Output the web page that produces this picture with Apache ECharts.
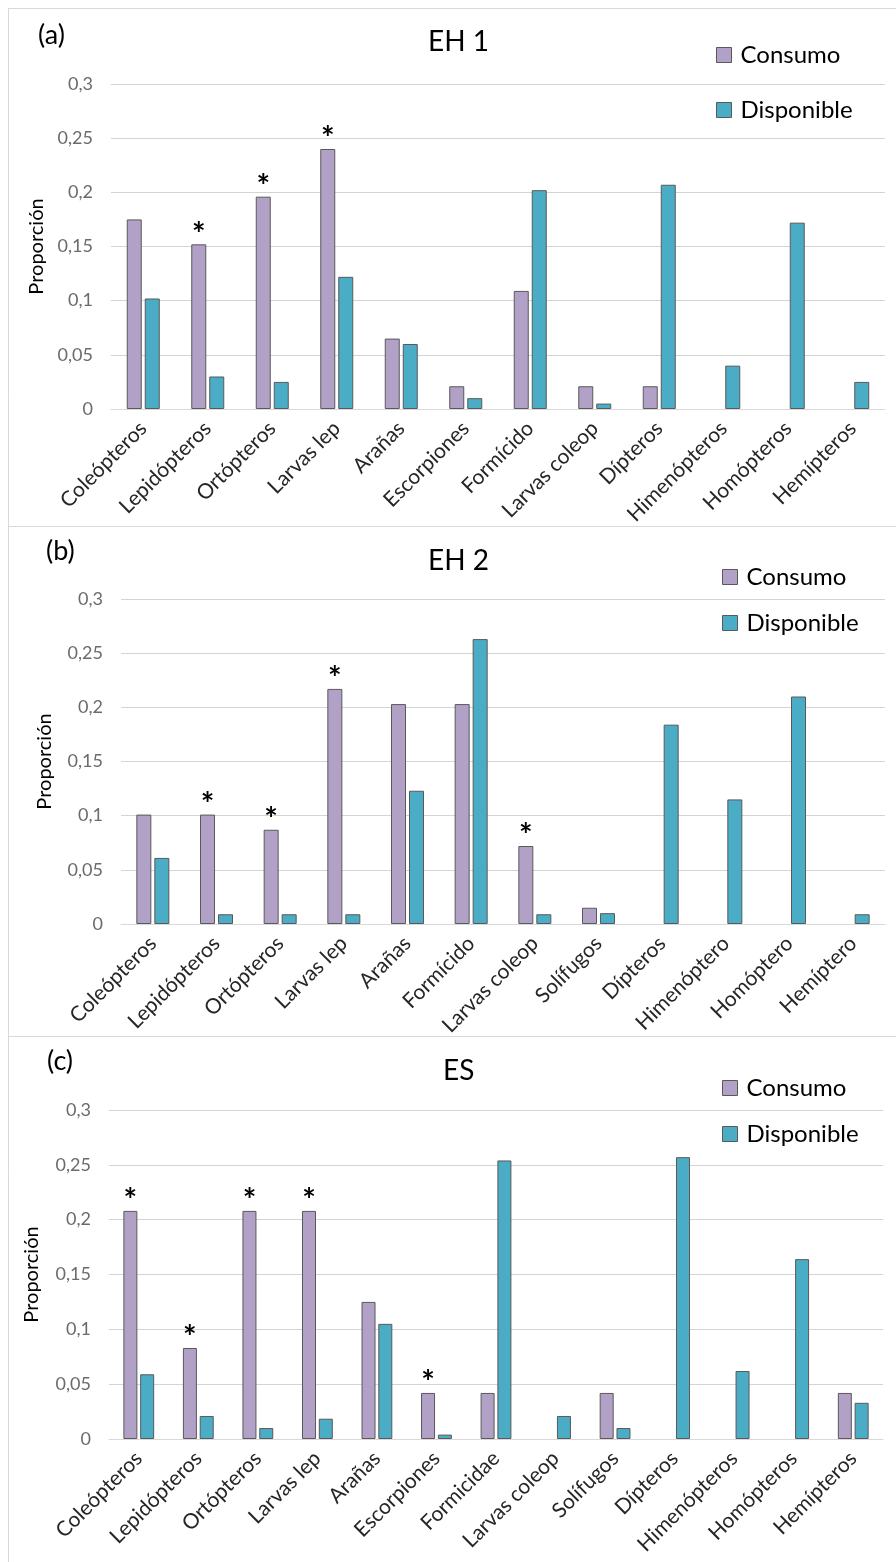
<!DOCTYPE html>
<html>
<head>
<meta charset="utf-8">
<script src="https://cdn.jsdelivr.net/npm/echarts@6/dist/echarts.min.js"></script>
<style>
html,body{margin:0;padding:0;background:#fff;}
#chart{width:896px;height:1562px;}
</style>
</head>
<body>
<div id="chart"></div>
<script>
// ---- Data ----
const seriesNames = ['Consumo', 'Disponible'];
const yTicks = [0, 0.05, 0.1, 0.15, 0.2, 0.25, 0.3];

const catsA = ['Coleópteros','Lepidópteros','Ortópteros','Larvas lep','Arañas','Escorpiones','Formícido','Larvas coleop','Dípteros','Himenópteros','Homópteros','Hemípteros'];
const consumoA = [0.175,0.152,0.196,0.240,0.065,0.021,0.109,0.021,0.021,0,0,0];
const disponibleA = [0.102,0.030,0.025,0.122,0.060,0.010,0.202,0.005,0.207,0.040,0.172,0.025];
const sigA = [0,1,1,1,0,0,0,0,0,0,0,0];

const catsB = ['Coleópteros','Lepidópteros','Ortópteros','Larvas lep','Arañas','Formícido','Larvas coleop','Solífugos','Dípteros','Himenóptero','Homóptero','Hemíptero'];
const consumoB = [0.101,0.101,0.087,0.217,0.203,0.203,0.072,0.015,0,0,0,0];
const disponibleB = [0.061,0.009,0.009,0.009,0.123,0.263,0.009,0.010,0.184,0.115,0.210,0.009];
const sigB = [0,1,1,1,0,0,1,0,0,0,0,0];

const catsC = ['Coleópteros','Lepidópteros','Ortópteros','Larvas lep','Arañas','Escorpiones','Formicidae','Larvas coleop','Solífugos','Dípteros','Himenópteros','Homópteros','Hemípteros'];
const consumoC = [0.208,0.083,0.208,0.208,0.125,0.042,0.042,0,0.042,0,0,0,0.042];
const disponibleC = [0.059,0.021,0.010,0.0185,0.105,0.004,0.254,0.021,0.010,0.257,0.062,0.164,0.033];
const sigC = [1,1,1,1,0,1,0,0,0,0,0,0,0];

const panelTitles = ['EH 1', 'EH 2', 'ES'];
const panelTags = ['(a)', '(b)', '(c)'];
const yName = 'Proporción';

// ---- Layout / style ----
const FONT = 'Lato, "Open Sans", sans-serif';
const C_PURPLE = '#B2A1C7';
const C_BLUE = '#4BACC6';
const C_BORDER = '#595959';

const panels = [
  { cats: catsA, cons: consumoA, disp: disponibleA, sig: sigA,
    grid: { left: 111, right: 11, top: 84, height: 325 }, barW: 15,
    titleTop: 28, titleLeft: 428, tagTop: 22, tagLeft: 38, legendTop: 43, legendLeft: 716, legendGap: 31, nameGap: 64 },
  { cats: catsB, cons: consumoB, disp: disponibleB, sig: sigB,
    grid: { left: 121, right: 11, top: 599, height: 325 }, barW: 15,
    titleTop: 547, titleLeft: 428, tagTop: 538, tagLeft: 46, legendTop: 565, legendLeft: 722, legendGap: 22, nameGap: 66 },
  { cats: catsC, cons: consumoC, disp: disponibleC, sig: sigC,
    grid: { left: 109, right: 13, top: 1110, height: 329 }, barW: 14,
    titleTop: 1057, titleLeft: 443, tagTop: 1048, tagLeft: 47, legendTop: 1076, legendLeft: 722, legendGap: 22, nameGap: 67 }
];

const fmtY = v => String(+v.toFixed(2)).replace('.', ',');
const nz = arr => arr.map(v => (v === 0 ? '-' : v));

const option = {
  backgroundColor: '#fff',
  animation: false,
  textStyle: { fontFamily: FONT },
  title: [], legend: [], grid: [], xAxis: [], yAxis: [], series: [],
  graphic: [
    { type: 'line', shape: { x1: 8, y1: 8.5, x2: 896, y2: 8.5 }, style: { stroke: '#d9d9d9', lineWidth: 1 } },
    { type: 'line', shape: { x1: 8, y1: 526.5, x2: 896, y2: 526.5 }, style: { stroke: '#d9d9d9', lineWidth: 1 } },
    { type: 'line', shape: { x1: 8, y1: 1036.5, x2: 896, y2: 1036.5 }, style: { stroke: '#d9d9d9', lineWidth: 1 } },
    { type: 'line', shape: { x1: 8.5, y1: 8, x2: 8.5, y2: 1562 }, style: { stroke: '#d9d9d9', lineWidth: 1 } }
  ]
};

panels.forEach((p, i) => {
  option.title.push({ text: panelTitles[i], left: p.titleLeft, top: p.titleTop, padding: 0,
    textStyle: { fontFamily: FONT, fontSize: 28, fontWeight: 'normal', color: '#000' } });
  option.title.push({ text: panelTags[i], left: p.tagLeft, top: p.tagTop, padding: 0,
    textStyle: { fontFamily: FONT, fontSize: 27, fontWeight: 'normal', color: '#000' } });
  option.legend.push({
    data: seriesNames, orient: 'vertical', left: p.legendLeft, top: p.legendTop, padding: 0,
    itemWidth: 15, itemHeight: 15, itemGap: p.legendGap, icon: 'rect',
    itemStyle: { borderColor: C_BORDER, borderWidth: 1 },
    textStyle: { fontFamily: FONT, fontSize: 24, color: '#000', padding: [0, 0, 0, 4] }
  });
  option.grid.push(p.grid);
  option.xAxis.push({
    type: 'category', gridIndex: i, data: p.cats,
    axisLine: { show: true, lineStyle: { color: '#d9d9d9' } },
    axisTick: { show: false },
    axisLabel: { interval: 0, rotate: 45, fontFamily: FONT, fontSize: 21, color: '#262626', margin: 16 }
  });
  option.yAxis.push({
    type: 'value', gridIndex: i, min: yTicks[0], max: yTicks[yTicks.length - 1], interval: yTicks[1] - yTicks[0],
    name: yName, nameLocation: 'middle', nameGap: p.nameGap, nameRotate: 90, nameMoveOverlap: false,
    nameTextStyle: { fontFamily: FONT, fontSize: 20, color: '#000' },
    axisLine: { show: false }, axisTick: { show: false },
    axisLabel: { formatter: fmtY, fontFamily: FONT, fontSize: 18, color: '#6b6b6b', margin: 18 },
    splitLine: { lineStyle: { color: '#d4d4d4', width: 1 } }
  });
  const sig = p.sig;
  option.series.push({
    name: seriesNames[0], type: 'bar', xAxisIndex: i, yAxisIndex: i,
    data: nz(p.cons), barWidth: p.barW, barGap: '20%',
    itemStyle: { color: C_PURPLE, borderColor: C_BORDER, borderWidth: 1 },
    label: { show: true, position: 'top', distance: -7, formatter: d => (sig[d.dataIndex] ? '*' : ''),
      fontFamily: FONT, fontSize: 32, fontWeight: 'bold', color: '#000' }
  });
  option.series.push({
    name: seriesNames[1], type: 'bar', xAxisIndex: i, yAxisIndex: i,
    data: nz(p.disp), barWidth: p.barW, barGap: '20%',
    itemStyle: { color: C_BLUE, borderColor: C_BORDER, borderWidth: 1 }
  });
});

const chart = echarts.init(document.getElementById('chart'), null, { renderer: 'canvas' });
chart.setOption(option);
</script>
</body>
</html>
